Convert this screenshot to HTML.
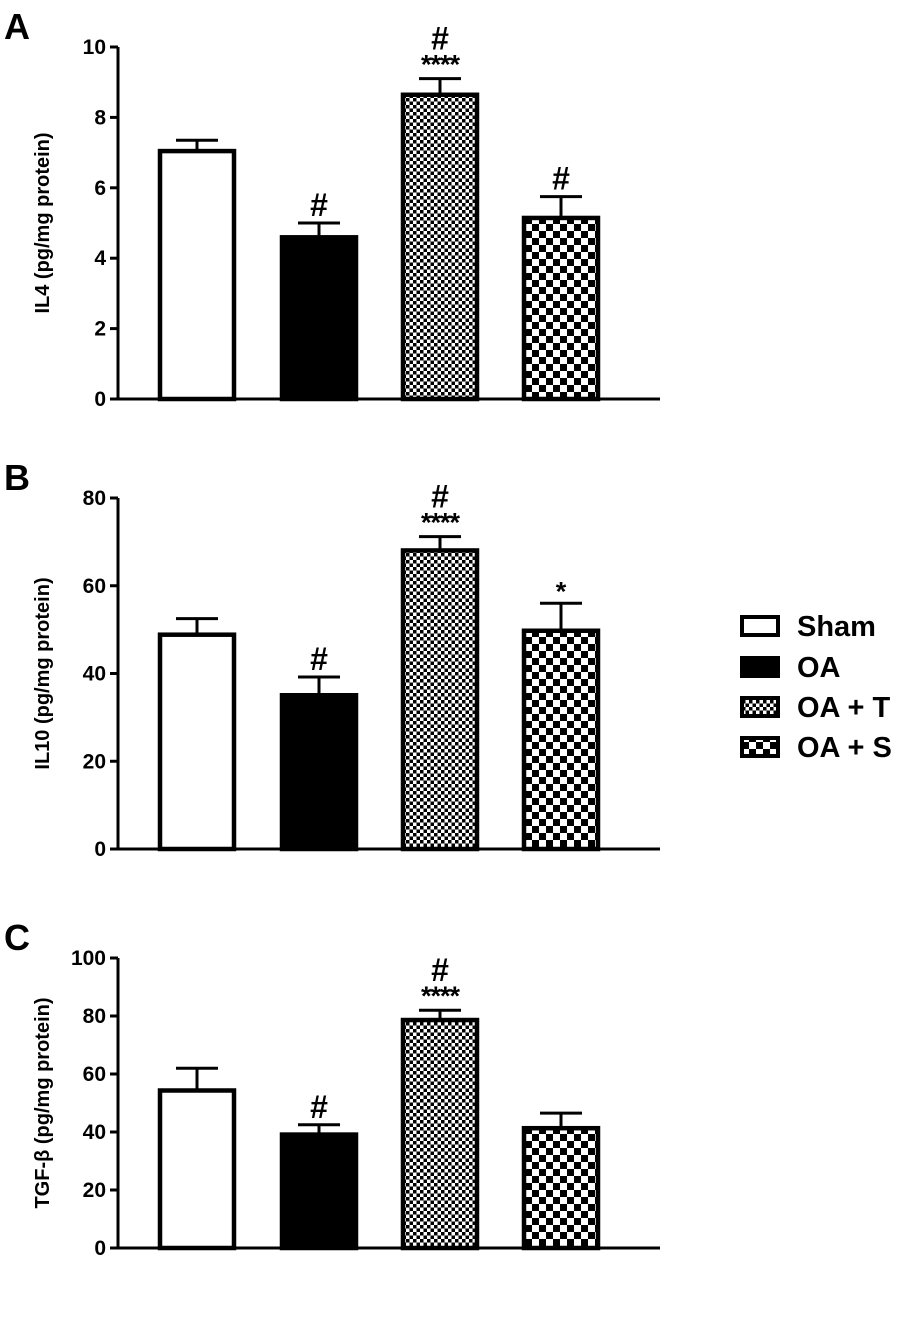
<!DOCTYPE html>
<html><head><meta charset="utf-8"><style>
body{margin:0;background:#fff;}
svg{display:block;font-family:"Liberation Sans",Arial,sans-serif;font-weight:bold;}
</style></head><body>
<svg id="chart" width="901" height="1320" viewBox="0 0 901 1320" xmlns="http://www.w3.org/2000/svg">
<defs>
<pattern id="fine" width="7" height="7" patternUnits="userSpaceOnUse"><rect width="7" height="7" fill="#fff"/><rect width="3.5" height="3.5" fill="#000"/><rect x="3.5" y="3.5" width="3.5" height="3.5" fill="#000"/></pattern>
<pattern id="coarse" width="14" height="14" patternUnits="userSpaceOnUse"><rect width="14" height="14" fill="#fff"/><rect width="7" height="7" fill="#000"/><rect x="7" y="7" width="7" height="7" fill="#000"/></pattern>
</defs>
</svg>
<script>
const categories=["Sham","OA","OA + T","OA + S"];
const ilA=[7.1,4.65,8.7,5.2];
const ilAerr=[0.25,0.35,0.4,0.55];
const ilAsig=["","#","#|****","#"];
const ilB=[49.3,35.5,68.5,50.2];
const ilBerr=[3.2,3.7,2.7,5.8];
const ilBsig=["","#","#|****","*"];
const ilC=[55,39.8,79.3,42];
const ilCerr=[7,2.7,2.7,4.5];
const ilCsig=["","#","#|****",""];
const ticksA=[0,2,4,6,8,10];
const ticksB=[0,20,40,60,80];
const ticksC=[0,20,40,60,80,100];
const fills=["#fff","#000","url(#fine)","url(#coarse)"];
const svg=document.getElementById('chart');
const NS="http://www.w3.org/2000/svg";
function mk(tag,attrs,parent){const e=document.createElementNS(NS,tag);for(const k in attrs)e.setAttribute(k,attrs[k]);(parent||svg).appendChild(e);return e;}
function panel(letter,title,y0,yTop,maxV,vals,errs,sigs,ticks,key){
  const g=mk('g',{});
  
  
  const y=v=>y0-(v/maxV)*(y0-yTop);
  const xL=118,xR=660;
  const bx=[158,280,401,522],bw=78;
  const lt=mk('text',{x:4,y:yTop-8,'font-size':36},g);lt.textContent=letter;
  
  
  const yt=mk('text',{x:0,y:0,'font-size':20,'text-anchor':'middle',transform:`translate(49,${(y0+yTop)/2}) rotate(-90)`},g);yt.textContent=title;
  
  
  const ax=mk('path',{d:`M${xL} ${yTop} V${y0} H${xR}`,stroke:'#000','stroke-width':3,fill:'none'},g);
  
  
  ticks.forEach(t=>{
    mk('line',{x1:xL-8,x2:xL,y1:y(t),y2:y(t),stroke:'#000','stroke-width':3},g);
    const tl=mk('text',{x:xL-12,y:y(t)+7,'font-size':21,'text-anchor':'end'},g);tl.textContent=t;
    
    
  });
  vals.forEach((v,i)=>{
    const cx=bx[i]+bw/2, top=y(v), et=y(v+errs[i]);
    mk('line',{x1:cx,x2:cx,y1:et,y2:top,stroke:'#000','stroke-width':3},g);
    mk('line',{x1:cx-21,x2:cx+21,y1:et,y2:et,stroke:'#000','stroke-width':3},g);
    const r=mk('rect',{x:bx[i]+2,y:top+2,width:bw-4,height:y0-top-2,fill:fills[i],stroke:'#000','stroke-width':4.5},g);
    
    
    const s=sigs[i];
    if(s){
      const parts=s.split('|');
      if(parts.length===2){
        const t1=mk('text',{x:cx,y:et-5,'font-size':27,'text-anchor':'middle','letter-spacing':'-1'},g);t1.textContent=parts[1];
        
        
        const t2=mk('text',{x:cx,y:et-29,'font-size':32,'text-anchor':'middle'},g);t2.textContent=parts[0];
        
        
      } else {
        const t=mk('text',{x:cx,y:et-(s==='*'?3:7),'font-size':s==='*'?27:32,'text-anchor':'middle'},g);t.textContent=s;
        
        
      }
    }
  });
}
panel('A','IL4 (pg/mg protein)',399,47,10,ilA,ilAerr,ilAsig,ticksA,'a');
panel('B','IL10 (pg/mg protein)',849,498,80,ilB,ilBerr,ilBsig,ticksB,'b');
panel('C','TGF-β (pg/mg protein)',1248,958,100,ilC,ilCerr,ilCsig,ticksC,'c');
const lg=mk('g',{});


const ly=[625,666,706,746];
categories.forEach((c,i)=>{
  const r=mk('rect',{x:742,y:ly[i]-8,width:36,height:18,fill:fills[i],stroke:'#000','stroke-width':4},lg);
  
  
  const t=mk('text',{x:797,y:ly[i]+11,'font-size':29},lg);t.textContent=c;
  
  
});
</script>
</body></html>
